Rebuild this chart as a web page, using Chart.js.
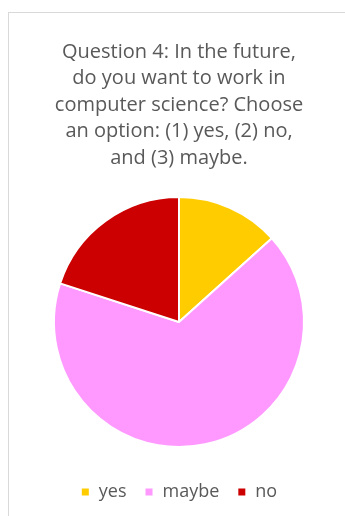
<!DOCTYPE html>
<html>
<head>
<meta charset="utf-8">
<script src="https://cdn.jsdelivr.net/npm/chart.js@4"></script>
<style>
  html, body { margin: 0; padding: 0; background: #fff; }
  body { width: 345px; height: 516px; position: relative; overflow: hidden; }
  .frame { position: absolute; left: 8px; top: 12px; width: 400px; height: 600px; border: 1px solid #d9d9d9; }
  .wrap { position: absolute; left: 0; top: 0; width: 345px; height: 516px; }
</style>
</head>
<body>
<div class="frame"></div>
<div class="wrap"><canvas id="pieChart"></canvas></div>
<script>
// survey answers
const titleLines = [
  'Question 4: In the future,',
  'do you want to work in',
  'computer science? Choose',
  'an option: (1) yes, (2) no,',
  'and (3) maybe.'
];
const answers = ['yes', 'maybe', 'no'];
const counts = [2, 10, 3];
const sliceColors = ['#FFCC00', '#FF99FF', '#CC0000'];

const ctx = document.getElementById('pieChart').getContext('2d');
new Chart(ctx, {
  type: 'pie',
  data: {
    labels: answers,
    datasets: [{
      data: counts,
      backgroundColor: sliceColors,
      borderColor: '#ffffff',
      borderWidth: 2,
      radius: 125
    }]
  },
  options: {
    responsive: true,
    maintainAspectRatio: false,
    animation: false,
    layout: { padding: { left: 13, right: 0, top: 0, bottom: 5 } },
    plugins: {
      title: {
        display: true,
        text: titleLines,
        color: '#595959',
        font: { family: '"Open Sans", sans-serif', size: 20, weight: 'normal', lineHeight: 1.32 },
        padding: { top: 39, bottom: 8 }
      },
      legend: {
        position: 'bottom',
        labels: {
          color: '#595959',
          boxWidth: 9,
          boxHeight: 9,
          padding: 18,
          font: { family: '"Open Sans", sans-serif', size: 18 }
        }
      },
      tooltip: { enabled: false }
    }
  }
});
</script>
</body>
</html>
